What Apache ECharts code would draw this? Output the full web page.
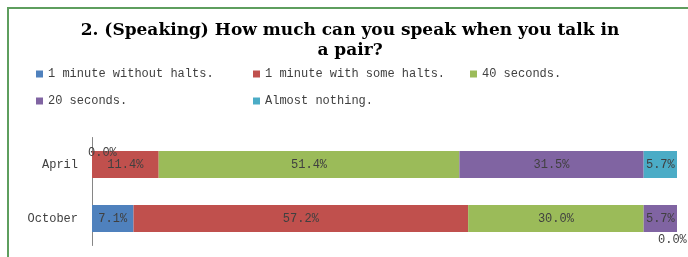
<!DOCTYPE html>
<html>
<head>
<meta charset="utf-8">
<script src="https://cdn.jsdelivr.net/npm/echarts@6/dist/echarts.min.js"></script>
<style>
    html, body {margin: 0; padding: 0; background: #fff;}
    #chart {width: 688px; height: 257px;}
</style>
</head>
<body>
<div id="chart"></div>
<script>
    // 数据 (y 轴从下往上: October 在下, April 在上)
    var categories = ['October', 'April'];
    var seriesNames = ['1 minute without halts.', '1 minute with some halts.', '40 seconds.', '20 seconds.', 'Almost nothing.'];
    var withoutHalts = [7.1, 0.0];
    var someHalts = [57.2, 11.4];
    var fortySec = [30.0, 51.4];
    var twentySec = [5.7, 31.5];
    var almostNothing = [0.0, 5.7];
    var colors = ['#4F81BD', '#C0504D', '#9BBB59', '#8064A2', '#4BACC6'];

    var allValues = [withoutHalts, someHalts, fortySec, twentySec, almostNothing];
    var mono = 'Liberation Mono';

    var chart = echarts.init(document.getElementById('chart'));

    // 0.0% 的标签放在条形外面
    function zeroLabel(si) {
        if (si === 0) {
            return {position: [-4, -4], align: 'left', verticalAlign: 'top'};
        }
        return {position: [-19, 29], align: 'left', verticalAlign: 'top'};
    }

    var series = [];
    for (var i = 0; i < seriesNames.length; i++) {
        var data = [];
        for (var j = 0; j < categories.length; j++) {
            var v = allValues[i][j];
            if (v === 0) {
                data.push({value: v, label: zeroLabel(i)});
            } else {
                data.push(v);
            }
        }
        series.push({
            name: seriesNames[i],
            type: 'bar',
            stack: 'total',
            barWidth: 27,
            itemStyle: {color: colors[i]},
            label: {
                show: true,
                position: 'inside',
                color: '#404040',
                fontFamily: mono,
                fontSize: 12,
                formatter: function (p) {
                    return p.value.toFixed(1) + '%';
                }
            },
            data: data
        });
    }

    var legendPos = [[36, 67], [253, 67], [470, 67], [36, 94], [253, 94]];
    var legends = [];
    for (var k = 0; k < seriesNames.length; k++) {
        legends.push({
            data: [seriesNames[k]],
            left: legendPos[k][0],
            top: legendPos[k][1],
            icon: 'rect',
            itemWidth: 7,
            itemHeight: 7,
            padding: 0,
            selectedMode: false,
            textStyle: {fontFamily: mono, fontSize: 12, color: '#404040', lineHeight: 14}
        });
    }

    var option = {
        animation: false,
        title: {
            text: '2. (Speaking) How much can you speak when you talk in\na pair?',
            left: 350,
            textAlign: 'center',
            top: 21,
            padding: 0,
            textStyle: {fontFamily: 'DejaVu Serif', fontWeight: 'bold', fontSize: 17, color: '#000', lineHeight: 20}
        },
        legend: legends,
        grid: {left: 92, right: 11, top: 137.5, bottom: 11.5},
        xAxis: {
            type: 'value',
            min: 0,
            max: 100,
            show: false
        },
        yAxis: {
            type: 'category',
            data: categories,
            axisLine: {lineStyle: {color: '#868686'}},
            axisTick: {show: false},
            axisLabel: {fontFamily: mono, fontSize: 12, color: '#404040', margin: 14}
        },
        graphic: [{
            type: 'rect',
            shape: {x: 8, y: 8, width: 700, height: 300},
            style: {fill: 'none', stroke: '#5E9E5E', lineWidth: 2}
        }],
        series: series
    };
    chart.setOption(option);
</script>
</body>
</html>
